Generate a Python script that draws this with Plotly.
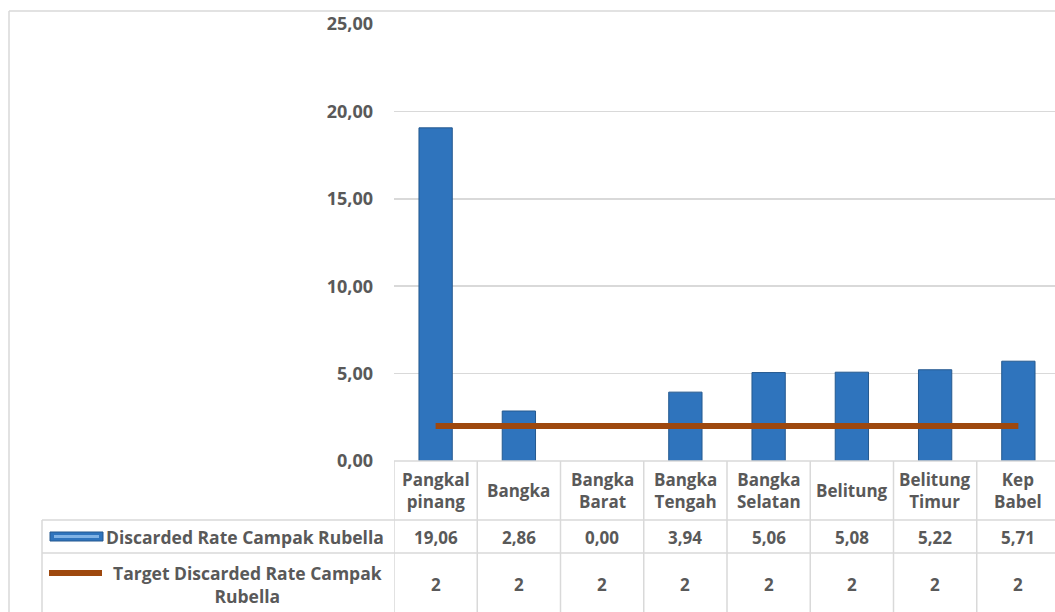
import plotly.graph_objects as go

categories = ["Pangkal<br>pinang", "Bangka", "Bangka<br>Barat", "Bangka<br>Tengah",
              "Bangka<br>Selatan", "Belitung", "Belitung<br>Timur", "Kep<br>Babel"]
discarded_rate = [19.06, 2.86, 0.00, 3.94, 5.06, 5.08, 5.22, 5.71]
target_rate = [2, 2, 2, 2, 2, 2, 2, 2]
series_names = ["Discarded Rate Campak Rubella", "Target Discarded Rate Campak<br>Rubella"]
y_ticks = [0, 5, 10, 15, 20, 25]

W, H = 1055, 612
FONT = "Open Sans"
GREY = "#595959"
GRID = "#d9d9d9"

def px(x):
    return x / W

def py(y):
    return 1 - y / H

idx = list(range(len(categories)))

fig = go.Figure()
fig.add_trace(go.Bar(
    x=idx, y=discarded_rate, width=0.4,
    marker=dict(color="#2f74bd",
                line=dict(color="#25598f", width=[1 if v > 0 else 0 for v in discarded_rate])),
    showlegend=False, hoverinfo="skip"))
fig.add_trace(go.Scatter(
    x=idx, y=target_rate, mode="lines",
    line=dict(color="#9e480e", width=6),
    showlegend=False, hoverinfo="skip"))

shapes = []
annotations = []

# outer chart border
shapes.append(dict(type="line", xref="paper", yref="paper", x0=px(9), x1=1.0, y0=py(11), y1=py(11),
                   line=dict(color=GRID, width=1.5)))
shapes.append(dict(type="line", xref="paper", yref="paper", x0=px(9), x1=px(9), y0=0, y1=py(11),
                   line=dict(color=GRID, width=1.5)))

# table horizontal lines
shapes.append(dict(type="line", xref="paper", yref="paper", x0=px(394), x1=1.0, y0=py(461), y1=py(461),
                   line=dict(color=GRID, width=1.5)))
for yy in (520, 553):
    shapes.append(dict(type="line", xref="paper", yref="paper", x0=px(42), x1=1.0, y0=py(yy), y1=py(yy),
                       line=dict(color=GRID, width=1.5)))
# left edge of legend column
shapes.append(dict(type="line", xref="paper", yref="paper", x0=px(42), x1=px(42), y0=0, y1=py(520),
                   line=dict(color=GRID, width=1.5)))
# category column boundaries
for i in idx:
    shapes.append(dict(type="line", xref="x", yref="paper", x0=i - 0.5, x1=i - 0.5, y0=0, y1=py(461),
                       line=dict(color=GRID, width=1.5)))

# legend keys
shapes.append(dict(type="rect", xref="paper", yref="paper", x0=px(50), x1=px(103), y0=py(541), y1=py(532),
                   fillcolor="#2f74bd", line=dict(color="#25598f", width=1)))
shapes.append(dict(type="rect", xref="paper", yref="paper", x0=px(54), x1=px(99), y0=py(538), y1=py(535),
                   fillcolor="#7fb2e5", line=dict(width=0)))
shapes.append(dict(type="line", xref="paper", yref="paper", x0=px(49), x1=px(102), y0=py(573), y1=py(573),
                   line=dict(color="#9e480e", width=6)))

tf = dict(family=FONT, size=17, color=GREY, weight="bold")

for i, c in enumerate(categories):
    annotations.append(dict(xref="x", yref="paper", x=i, y=py(490), text=c, showarrow=False,
                            font=tf, xanchor="center", yanchor="middle", align="center"))
    annotations.append(dict(xref="x", yref="paper", x=i, y=py(537),
                            text=f"{discarded_rate[i]:.2f}".replace(".", ","), showarrow=False,
                            font=tf, xanchor="center", yanchor="middle"))
    annotations.append(dict(xref="x", yref="paper", x=i, y=py(584),
                            text=str(target_rate[i]), showarrow=False,
                            font=tf, xanchor="center", yanchor="middle"))

annotations.append(dict(xref="paper", yref="paper", x=px(386), y=py(537), text=series_names[0],
                        showarrow=False, font=dict(tf, size=17.5), xanchor="right", yanchor="middle"))
annotations.append(dict(xref="paper", yref="paper", x=px(247), y=py(584), text=series_names[1],
                        showarrow=False, font=dict(tf, size=17.5), xanchor="center", yanchor="middle",
                        align="center"))

fig.update_layout(
    width=W, height=H, autosize=False,
    margin=dict(l=0, r=0, t=0, b=0, pad=0, autoexpand=False),
    paper_bgcolor="white", plot_bgcolor="white",
    separators=",.",
    xaxis=dict(domain=[px(394), 1.0], range=[-0.5, 7.44], showticklabels=False, automargin=False,
               showgrid=False, zeroline=False, showline=False, ticks=""),
    yaxis=dict(domain=[py(461), py(24)], range=[0, 25], tickvals=y_ticks, tickformat=".2f",
               automargin=False,
               showgrid=True, gridcolor=GRID, gridwidth=1.5, zeroline=False, showline=False,
               ticks="", ticklabelstandoff=20,
               tickfont=dict(family=FONT, size=18, color=GREY, weight="bold")),
    shapes=shapes, annotations=annotations,
)

fig.write_html("out.html", config={"displayModeBar": False, "staticPlot": True},
               post_script="document.body.style.margin='0';document.body.style.overflow='hidden';")
